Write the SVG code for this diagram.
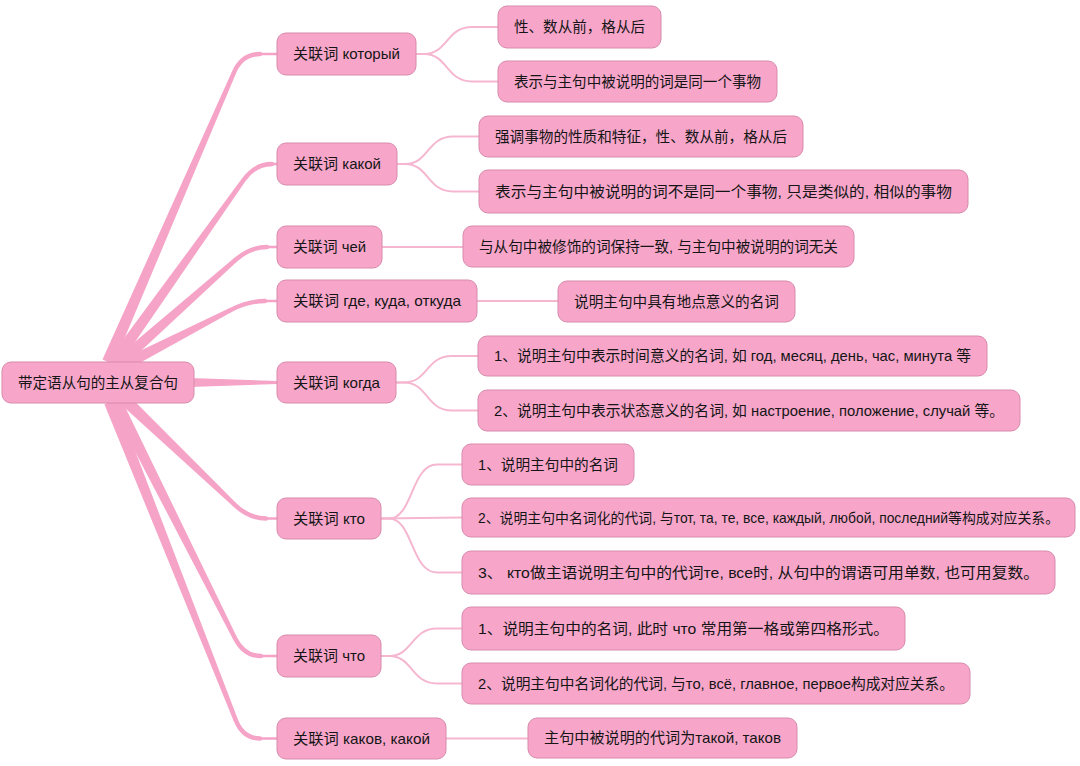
<svg xmlns="http://www.w3.org/2000/svg" width="1080" height="766" viewBox="0 0 1080 766">
<style>
.box{fill:#f7a6ca;stroke:#d88aab;stroke-width:1}
.t{font-family:"Liberation Sans","Noto Sans CJK SC",sans-serif;font-size:15px;fill:#151515}
.br{fill:#f5a3c7;stroke:none}
.bc{fill:none;stroke:#f5a3c7;stroke-linecap:round}
.l2{fill:none;stroke:#f5b7d0;stroke-width:2}
</style>
<rect width="1080" height="766" fill="#ffffff"/>
<g id="connectors">
  <polygon class="br" points="102.5,359.61 113.5,364.39 236.04,73.22 232,71.46"/>
  <path class="bc" stroke-width="4.4" d="M234.02,72.34 Q242,54 260,54"/>
  <path class="bc" stroke-width="2.5" d="M258,54 L278,54"/>

  <polygon class="br" points="109.11,358.52 118.89,365.48 245.19,181.57 241.61,179.01"/>
  <path class="bc" stroke-width="4.4" d="M243.4,180.29 Q255,164 272,164"/>
  <path class="bc" stroke-width="2.5" d="M270,164 L278,164"/>

  <polygon class="br" points="114.02,359.51 121.98,368.49 236.49,261.92 233.57,258.62"/>
  <path class="bc" stroke-width="4.4" d="M235.03,260.27 Q250,247 267,247"/>
  <path class="bc" stroke-width="2.5" d="M265,247 L278,247"/>

  <polygon class="br" points="119.25,360.67 124.75,371.33 231.24,312.13 229.22,308.21"/>
  <path class="bc" stroke-width="4.4" d="M230.23,310.17 Q248,301 265,301"/>
  <path class="bc" stroke-width="2.5" d="M263,301 L278,301"/>

  <polygon class="br" points="190,378 190,387 278,384 278,381"/>

  <polygon class="br" points="120.85,404.34 129.15,395.66 236.06,503.09 233.02,506.27"/>
  <path class="bc" stroke-width="4.4" d="M234.54,504.68 Q249,518.5 266,518.5"/>
  <path class="bc" stroke-width="2.5" d="M264,518.5 L278,518.5"/>

  <polygon class="br" points="110.64,404.7 121.36,399.3 236.96,637.15 233.04,639.13"/>
  <path class="bc" stroke-width="4.4" d="M235,638.14 Q244,656 261,656"/>
  <path class="bc" stroke-width="2.5" d="M259,656 L278,656"/>

  <polygon class="br" points="104.42,404.21 115.58,399.79 237.7,719.09 233.6,720.71"/>
  <path class="bc" stroke-width="4.4" d="M235.65,719.9 Q243,738.5 260,738.5"/>
  <path class="bc" stroke-width="2.5" d="M258,738.5 L278,738.5"/>

  <path class="l2" d="M416,54 L424,54 C448,54 446,27 472,27 L498,27"/>
  <path class="l2" d="M416,54 L424,54 C448,54 446,81.5 472,81.5 L498,81.5"/>
  <path class="l2" d="M397,164 L405,164 C429,164 427,136.5 453,136.5 L479,136.5"/>
  <path class="l2" d="M397,164 L405,164 C429,164 427,191.5 453,191.5 L479,191.5"/>
  <path class="l2" d="M382,247 L463,247"/>
  <path class="l2" d="M477,301 L558,301"/>
  <path class="l2" d="M396,382.5 L404,382.5 C428,382.5 426,356 452,356 L478,356"/>
  <path class="l2" d="M396,382.5 L404,382.5 C428,382.5 426,410.5 452,410.5 L478,410.5"/>
  <path class="l2" d="M381,518.5 L389,518.5 C413,518.5 411,464.5 437,464.5 L462,464.5"/>
  <path class="l2" d="M381,518.5 L462,517.5"/>
  <path class="l2" d="M381,518.5 L389,518.5 C413,518.5 411,572.5 437,572.5 L462,572.5"/>
  <path class="l2" d="M381,656 L389,656 C413,656 411,628.5 437,628.5 L462,628.5"/>
  <path class="l2" d="M381,656 L389,656 C413,656 411,683.5 437,683.5 L462,683.5"/>
  <path class="l2" d="M446,738.5 L528,738.5"/>
</g>

<g id="root"><rect class="box" x="2" y="362" width="192" height="41" rx="9"/><text class="t" x="18" y="387.5" textLength="160" lengthAdjust="spacingAndGlyphs">带定语从句的主从复合句</text></g>

<g id="n-kotoryj"><rect class="box" x="277" y="33" width="139" height="42" rx="9"/><text class="t" x="293" y="59" textLength="107" lengthAdjust="spacingAndGlyphs">关联词 который</text></g>
<g id="n-kakoj"><rect class="box" x="277" y="143" width="120" height="42" rx="9"/><text class="t" x="293" y="169" textLength="88" lengthAdjust="spacingAndGlyphs">关联词 какой</text></g>
<g id="n-chej"><rect class="box" x="277" y="226" width="105" height="42" rx="9"/><text class="t" x="293" y="252" textLength="73" lengthAdjust="spacingAndGlyphs">关联词 чей</text></g>
<g id="n-gde"><rect class="box" x="277" y="280" width="200" height="42" rx="9"/><text class="t" x="293" y="306" textLength="168" lengthAdjust="spacingAndGlyphs">关联词 где, куда, откуда</text></g>
<g id="n-kogda"><rect class="box" x="277" y="362" width="119" height="41" rx="9"/><text class="t" x="293" y="387.5" textLength="87" lengthAdjust="spacingAndGlyphs">关联词 когда</text></g>
<g id="n-kto"><rect class="box" x="277" y="498" width="104" height="41" rx="9"/><text class="t" x="293" y="523.5" textLength="72" lengthAdjust="spacingAndGlyphs">关联词 кто</text></g>
<g id="n-chto"><rect class="box" x="277" y="635" width="104" height="42" rx="9"/><text class="t" x="293" y="661" textLength="72" lengthAdjust="spacingAndGlyphs">关联词 что</text></g>
<g id="n-kakov"><rect class="box" x="277" y="718" width="169" height="41" rx="9"/><text class="t" x="293" y="743.5" textLength="137" lengthAdjust="spacingAndGlyphs">关联词 каков, какой</text></g>

<g id="a1"><rect class="box" x="498" y="6" width="163" height="42" rx="9"/><text class="t" x="514" y="32" textLength="131" lengthAdjust="spacingAndGlyphs">性、数从前，格从后</text></g>
<g id="a2"><rect class="box" x="498" y="61" width="279" height="41" rx="9"/><text class="t" x="514" y="86.5" textLength="247" lengthAdjust="spacingAndGlyphs">表示与主句中被说明的词是同一个事物</text></g>
<g id="b1"><rect class="box" x="479" y="116" width="324" height="41" rx="9"/><text class="t" x="495" y="141.5" textLength="292" lengthAdjust="spacingAndGlyphs">强调事物的性质和特征，性、数从前，格从后</text></g>
<g id="b2"><rect class="box" x="479" y="170" width="489" height="43" rx="9"/><text class="t" x="495" y="196.5" textLength="457" lengthAdjust="spacingAndGlyphs">表示与主句中被说明的词不是同一个事物, 只是类似的, 相似的事物</text></g>
<g id="c1"><rect class="box" x="463" y="226" width="391" height="41" rx="9"/><text class="t" x="479" y="251.5" textLength="359" lengthAdjust="spacingAndGlyphs">与从句中被修饰的词保持一致, 与主句中被说明的词无关</text></g>
<g id="d1"><rect class="box" x="558" y="281" width="237" height="41" rx="9"/><text class="t" x="574" y="306.5" textLength="205" lengthAdjust="spacingAndGlyphs">说明主句中具有地点意义的名词</text></g>
<g id="e1"><rect class="box" x="478" y="336" width="509" height="40" rx="9"/><text class="t" x="494" y="361" textLength="477" lengthAdjust="spacingAndGlyphs">1、说明主句中表示时间意义的名词, 如 год, месяц, день, час, минута 等</text></g>
<g id="e2"><rect class="box" x="478" y="390" width="542" height="41" rx="9"/><text class="t" x="494" y="415.5" textLength="510" lengthAdjust="spacingAndGlyphs">2、说明主句中表示状态意义的名词, 如 настроение, положение, случай 等。</text></g>
<g id="f1"><rect class="box" x="462" y="444" width="172" height="41" rx="9"/><text class="t" x="478" y="469.5" textLength="140" lengthAdjust="spacingAndGlyphs">1、说明主句中的名词</text></g>
<g id="f2"><rect class="box" x="462" y="498" width="613" height="39" rx="9"/><text class="t" x="478" y="522.5" style="font-size:14.2px" textLength="581" lengthAdjust="spacingAndGlyphs">2、说明主句中名词化的代词, 与тот, та, те, все, каждый, любой, последний等构成对应关系。</text></g>
<g id="f3"><rect class="box" x="462" y="551" width="593" height="43" rx="9"/><text class="t" x="478" y="577.5" textLength="561" lengthAdjust="spacingAndGlyphs">3、 кто做主语说明主句中的代词те, все时, 从句中的谓语可用单数, 也可用复数。</text></g>
<g id="g1"><rect class="box" x="462" y="607" width="443" height="43" rx="9"/><text class="t" x="478" y="633.5" textLength="411" lengthAdjust="spacingAndGlyphs">1、说明主句中的名词, 此时 что 常用第一格或第四格形式。</text></g>
<g id="g2"><rect class="box" x="462" y="663" width="508" height="41" rx="9"/><text class="t" x="478" y="688.5" textLength="476" lengthAdjust="spacingAndGlyphs">2、说明主句中名词化的代词, 与то, всё, главное, первое构成对应关系。</text></g>
<g id="h1"><rect class="box" x="528" y="718" width="269" height="40" rx="9"/><text class="t" x="544" y="743" textLength="237" lengthAdjust="spacingAndGlyphs">主句中被说明的代词为такой, таков</text></g>
</svg>
